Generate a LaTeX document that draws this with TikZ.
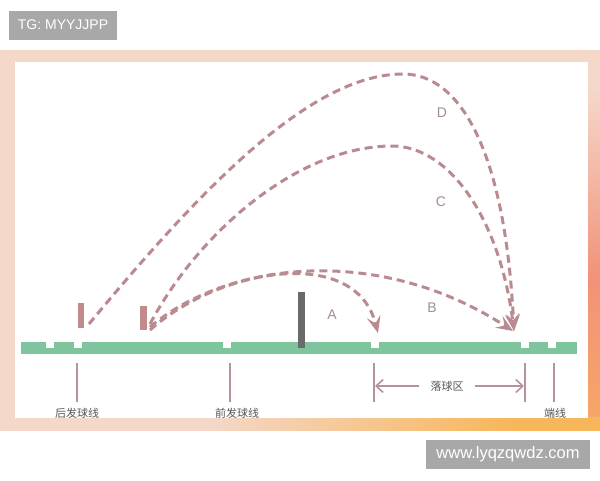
\documentclass[tikz,border=0pt]{standalone}
\usepackage{fontspec}
\setmainfont{Liberation Sans}
\newfontfamily\cjk{Noto Sans CJK SC}
\usetikzlibrary{arrows.meta}
\definecolor{peach}{HTML}{F4D8CA}
\definecolor{salmon}{HTML}{F29279}
\definecolor{orangex}{HTML}{F8B65A}
\definecolor{tggray}{HTML}{A8A8A8}
\definecolor{courtgreen}{HTML}{7EC59D}
\definecolor{netgray}{HTML}{6A6A6A}
\definecolor{barpink}{HTML}{C28A8B}
\definecolor{arcpink}{HTML}{B98B90}
\definecolor{linepink}{HTML}{B7929A}
\definecolor{lettergray}{HTML}{A08E92}
\definecolor{labelgray}{HTML}{555555}
\pgfdeclarehorizontalshading{bottomband}{100bp}{color(0bp)=(peach); color(42bp)=(peach); color(68bp)=(orangex); color(100bp)=(orangex)}
\pgfdeclareverticalshading{rightband}{100bp}{color(0bp)=(orangex); color(12bp)=(orangex); color(45bp)=(salmon); color(70bp)=(peach); color(100bp)=(peach)}
\tikzset{
  tagbox/.style={fill=tggray, text=white, inner sep=0pt, minimum height=29pt},
  arcpath/.style={draw=arcpink, line width=3pt, dash pattern=on 8pt off 5pt,
    -{Stealth[length=17pt,width=14pt,inset=7pt,line width=1.2pt]}},
  markline/.style={draw=linepink, line width=2pt},
  zonearrow/.style={draw=linepink, line width=1.6pt, -{Straight Barb[length=7pt,width=13pt]}},
  cnlabel/.style={text=labelgray, font=\cjk\fontsize{11}{13}\selectfont, inner sep=0pt},
  letter/.style={text=lettergray, font=\fontsize{14}{16}\selectfont, inner sep=0pt},
  notch/.style={fill=white},
  playerbar/.style={fill=barpink}
}
\begin{document}
\begin{tikzpicture}[x=1pt,y=-1pt]
\useasboundingbox (0,0) rectangle (600,480);
\fill[white] (0,0) rectangle (600,480);
% frame
\fill[peach] (0,50) rectangle (600,430);
\shade[shading=rightband] (586,50) rectangle (600,430);
\shade[shading=bottomband] (0,417) rectangle (600,430);
% panel
\fill[white] (15,62) rectangle (588,418);
% tags
\node[tagbox, minimum width=108pt, font=\fontsize{14}{16}\selectfont] (tg) at (63,25) {TG: MYYJJPP};
\node[tagbox, minimum width=164pt, font=\fontsize{16.5}{18}\selectfont] (wm) at (508,454.5) {www.lyqzqwdz.com};
% court
\fill[courtgreen] (21,342) rectangle (577,354);
\foreach \cx in {49.5,78,227,375,525,552} {
  \fill[notch] (\cx-4,341) rectangle (\cx+4,348);
}
\fill[netgray] (298,292) rectangle (305,348);
\fill[playerbar] (78,303) rectangle (84,328);
\fill[playerbar] (140,306) rectangle (147,330);
% trajectory points
\coordinate (dS) at (89,324);
\coordinate (cS) at (150,324);
\coordinate (bS) at (150,327);
\coordinate (aS) at (150,330);
\coordinate (dP) at (403,74);
\coordinate (cP) at (392,146);
\coordinate (dE) at (514,331);
\coordinate (cE) at (514,331);
\coordinate (bE) at (513,331);
\coordinate (aE) at (378,333);
\draw[arcpath] (dS) .. controls (200,190) and (310,74) .. (dP)
  .. controls (460,74) and (505,150) .. (dE);
\draw[arcpath] (cS) .. controls (200,230) and (300,146) .. (cP)
  .. controls (450,146) and (500,220) .. (cE);
\draw[arcpath] (bS) .. controls (230,260) and (380,245) .. (bE);
\draw[arcpath] (aS) .. controls (220,268) and (355,245) .. (aE);
\node[letter] (ld) at (442,113) {D};
\node[letter] (lc) at (441,202) {C};
\node[letter] (lb) at (432,308) {B};
\node[letter] (la) at (332,315) {A};
% marker lines
\coordinate (m1t) at (77,363);   \coordinate (m1b) at (77,402);
\coordinate (m2t) at (230,363);  \coordinate (m2b) at (230,402);
\coordinate (m3t) at (374,363);  \coordinate (m3b) at (374,402);
\coordinate (m4t) at (525,363);  \coordinate (m4b) at (525,402);
\coordinate (m5t) at (554,363);  \coordinate (m5b) at (554,402);
\draw[markline] (m1t) -- (m1b);
\draw[markline] (m2t) -- (m2b);
\draw[markline] (m3t) -- (m3b);
\draw[markline] (m4t) -- (m4b);
\draw[markline] (m5t) -- (m5b);
\node[cnlabel] (zone) at (447,386) {落球区};
\coordinate (zl) at (375,386);
\coordinate (zr) at (524,386);
\draw[zonearrow] ([xshift=-11pt]zone.west) -- (zl);
\draw[zonearrow] ([xshift=11pt]zone.east) -- (zr);
\node[cnlabel] (back) at (77,413) {后发球线};
\node[cnlabel] (front) at (237,413) {前发球线};
\node[cnlabel] (end) at (555,413) {端线};
\end{tikzpicture}
\end{document}
